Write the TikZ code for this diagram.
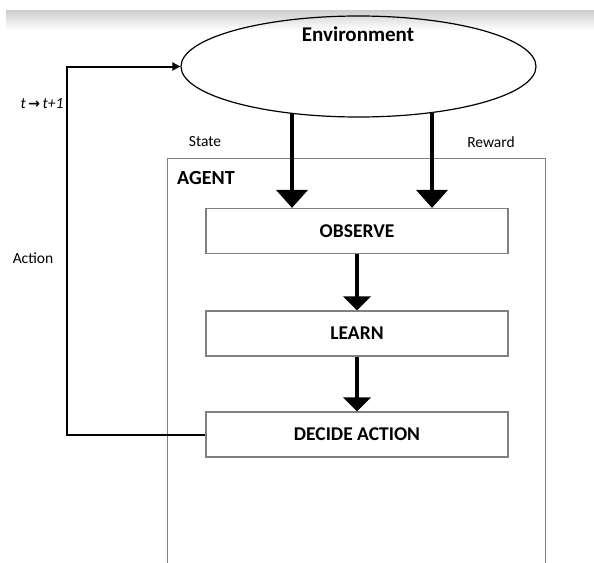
\documentclass[tikz,border=0pt]{standalone}
\usepackage{fontspec}
\setmainfont{Carlito}
\newfontfamily\arrowfont{DejaVu Sans}
\usetikzlibrary{arrows.meta,positioning,shapes.geometric}
\tikzset{
	stage/.style={draw=gray, line width=1.2pt, minimum width=302pt, minimum height=45pt, inner sep=0pt, font=\fontsize{19.5}{22}\selectfont\bfseries},
	flow/.style={line width=3.5pt, -{Triangle[width=27pt,length=14pt]}},
	inflow/.style={line width=4pt, -{Triangle[width=31pt,length=18pt]}},
	tag/.style={font=\fontsize{15.5}{18}\selectfont},
}
\begin{document}
\begin{tikzpicture}[x=1pt, y=-1pt]
		\useasboundingbox (0,0) rectangle (594,562);
		\shade [top color=gray!40, bottom color=white] (6,10) rectangle (594,30);
		\node (env) [draw, ellipse, line width=1.2pt, minimum width=355pt, minimum height=101pt, inner sep=0pt] at (358.5,66.5) {};
		\node (envtext) [font=\fontsize{21}{24}\selectfont\bfseries] at (358,34) {Environment};
		\node (agent) [draw=gray, line width=1.2pt, minimum width=378pt, minimum height=430pt, inner sep=0pt, anchor=north west] at (167,158) {};
		\node (agenttext) [anchor=west, inner sep=0pt, font=\fontsize{20}{23}\selectfont\bfseries] at (177,178) {AGENT};
		\node (observe) [stage] at (357,231) {OBSERVE};
		\node (learn) [stage] at (357,333.5) {LEARN};
		\node (decide) [stage] at (357,434.5) {DECIDE ACTION};
		\node (state) [tag] at (205,142) {State};
		\node (reward) [tag] at (491,142) {Reward};
		\node (timetext) [tag, inner sep=0pt] at (42,104) {\textit{t}\,{\arrowfont\bfseries\fontsize{14}{16}\selectfont →}\,\textit{t+1}};
		\node (action) [tag] at (33,258) {Action};
		\coordinate (statetop) at (292,113);
		\coordinate (rewardtop) at (432,112.5);
		\draw [inflow] (statetop) -- (statetop |- observe.north);
		\draw [inflow] (rewardtop) -- (rewardtop |- observe.north);
		\draw [flow] (observe) -- (learn);
		\draw [flow] (learn) -- (decide);
		\draw [line width=2pt, -{Triangle[width=8pt,length=8pt]}] (decide.west) -- ++(-138,0) |- (env.west);
	\end{tikzpicture}
\end{document}
